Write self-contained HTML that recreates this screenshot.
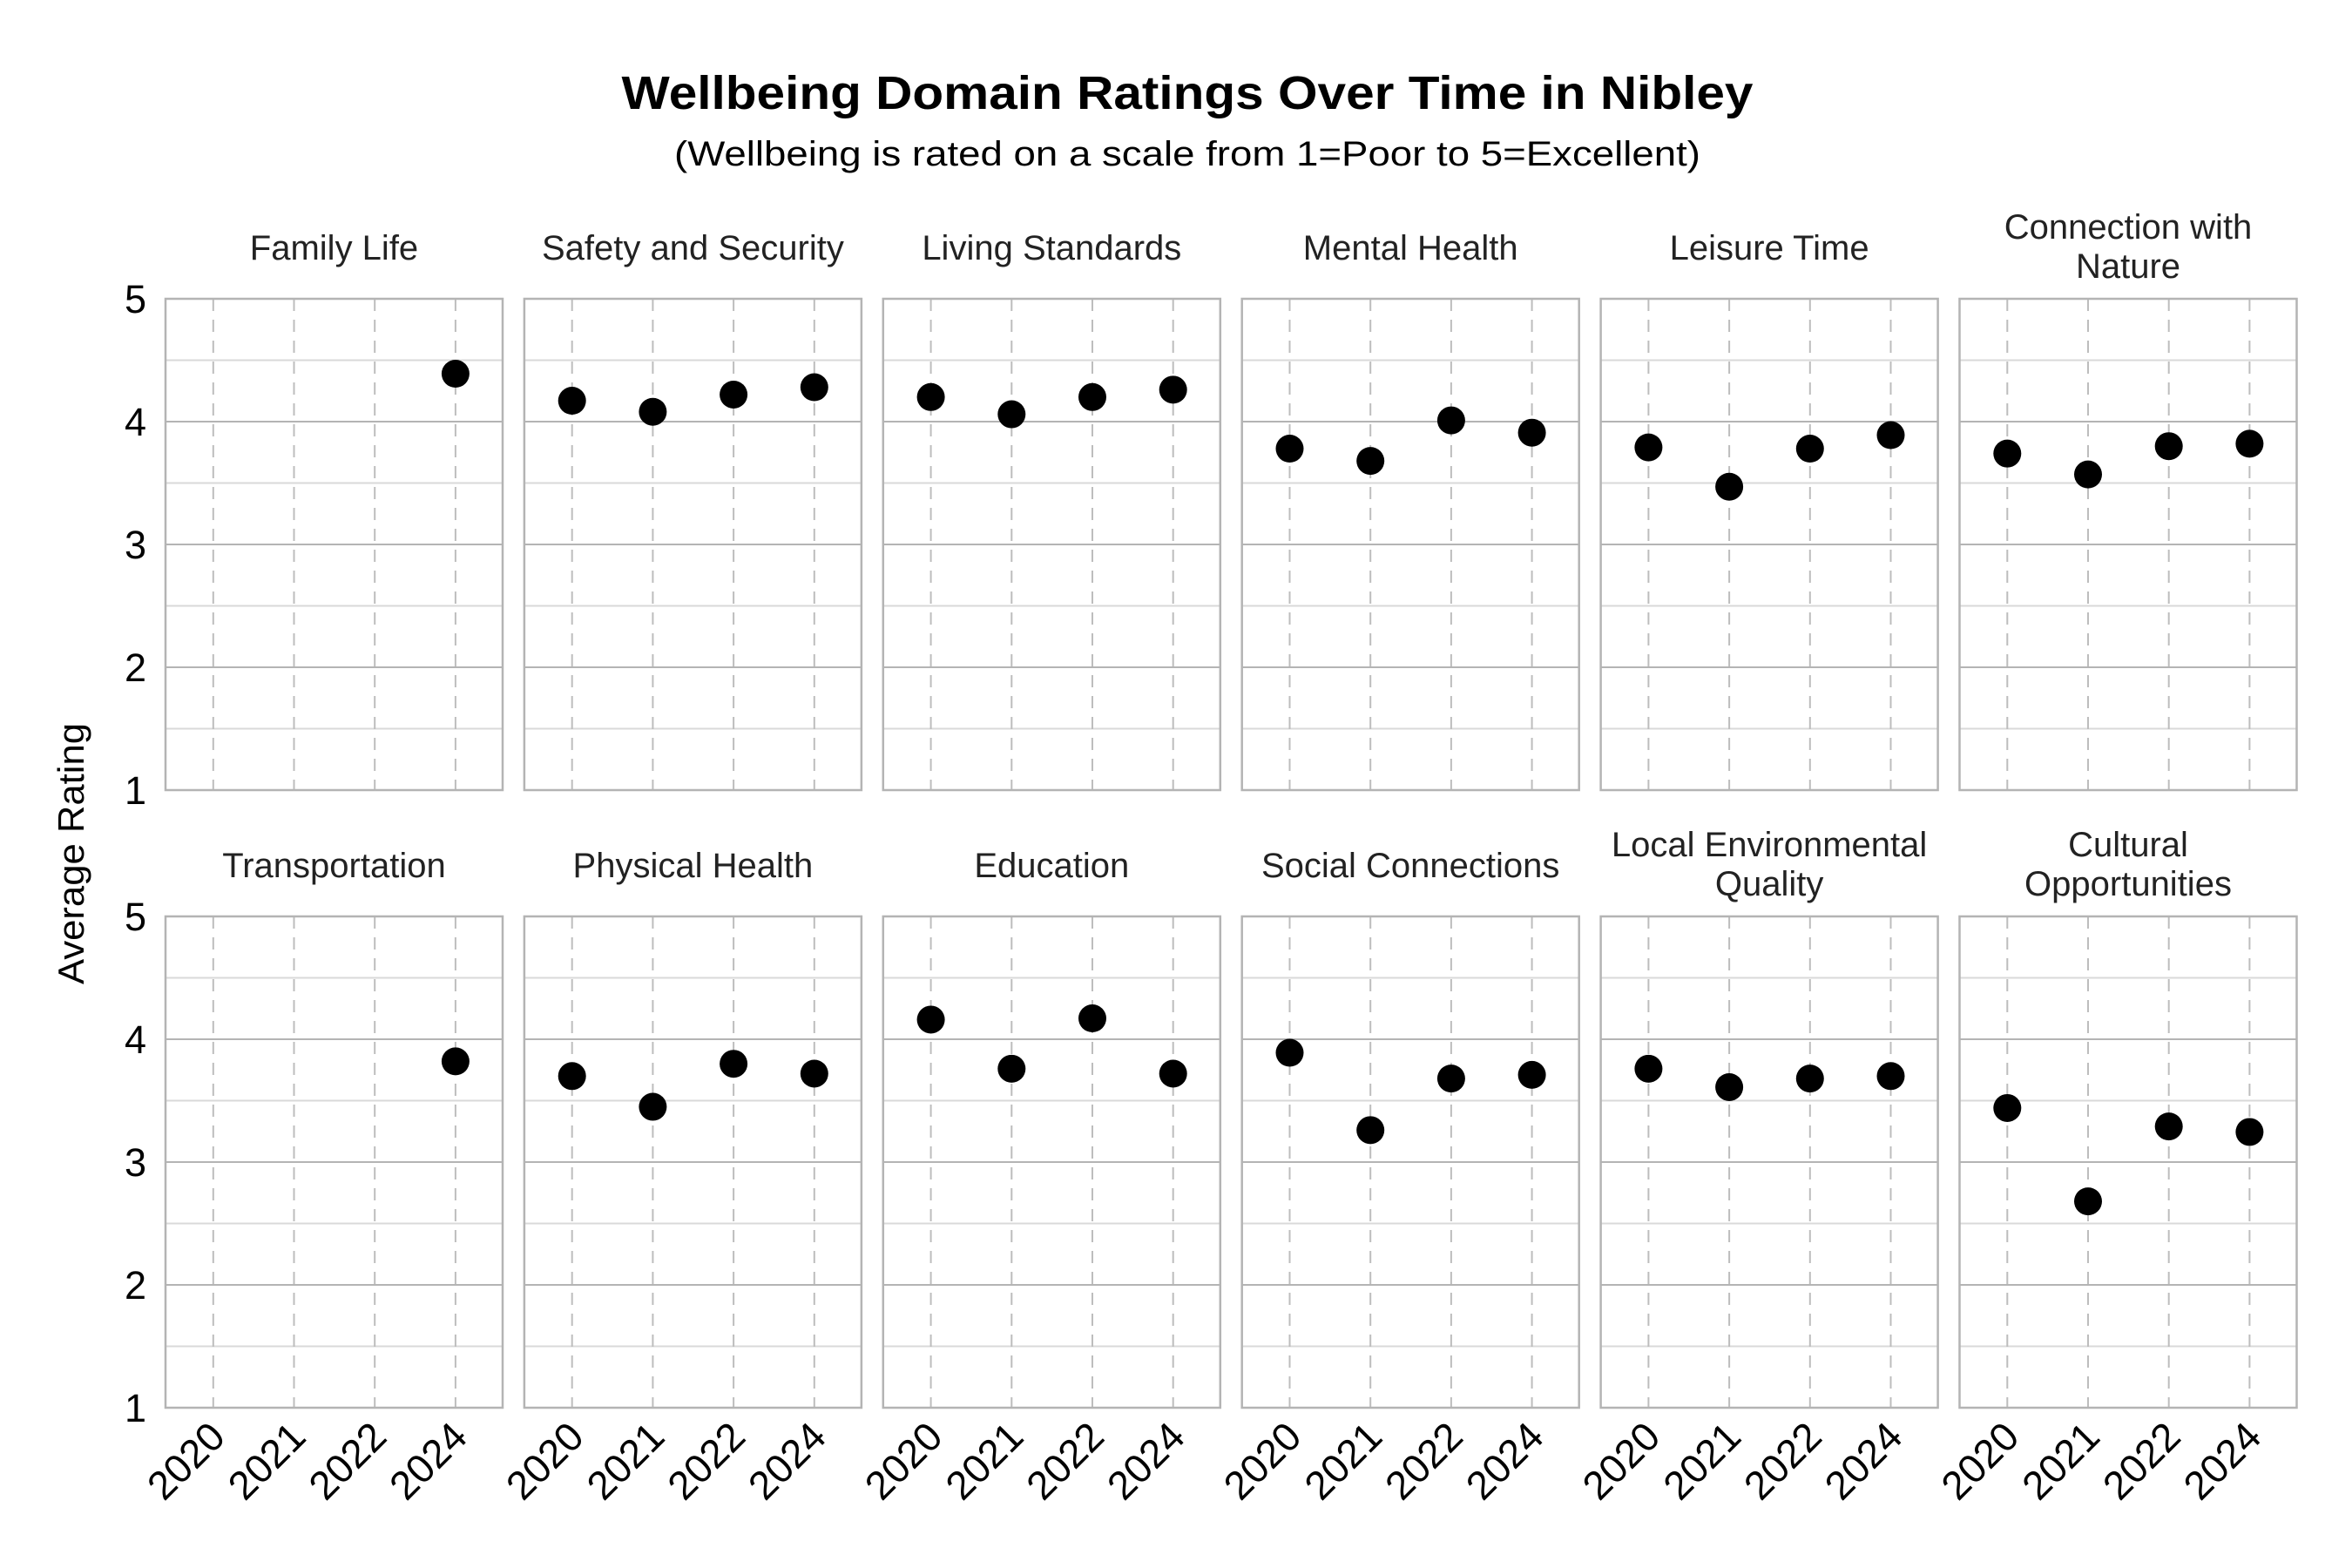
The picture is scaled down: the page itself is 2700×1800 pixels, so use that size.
<!DOCTYPE html>
<html><head><meta charset="utf-8"><style>
html,body{margin:0;padding:0;background:#fff;}
svg{display:block;}
</style></head><body>
<svg xmlns="http://www.w3.org/2000/svg" width="2700" height="1800" viewBox="0 0 2700 1800">
<rect width="2700" height="1800" fill="#fff"/>
<text x="1363" y="125" text-anchor="middle" font-family="Liberation Sans, sans-serif" font-weight="bold" font-size="54" textLength="1299" lengthAdjust="spacingAndGlyphs" fill="#000">Wellbeing Domain Ratings Over Time in Nibley</text>
<text x="1363" y="190" text-anchor="middle" font-family="Liberation Sans, sans-serif" font-size="40" textLength="1178" lengthAdjust="spacingAndGlyphs" fill="#000">(Wellbeing is rated on a scale from 1=Poor to 5=Excellent)</text>
<text transform="translate(96,980) rotate(-90)" text-anchor="middle" font-family="Liberation Sans, sans-serif" font-size="42" textLength="300" lengthAdjust="spacingAndGlyphs" fill="#000">Average Rating</text>
<g id="g"></g>
<script>
(function(){
var NS="http://www.w3.org/2000/svg",g=document.getElementById("g");
function el(t,a,txt){var e=document.createElementNS(NS,t);for(var k in a)e.setAttribute(k,a[k]);if(txt!==undefined)e.textContent=txt;g.appendChild(e);return e;}
var panels=[
[["Family Life"],[null,null,null,4.39]],
[["Safety and Security"],[4.17,4.08,4.22,4.28]],
[["Living Standards"],[4.20,4.06,4.20,4.26]],
[["Mental Health"],[3.78,3.68,4.01,3.91]],
[["Leisure Time"],[3.79,3.47,3.78,3.89]],
[["Connection with","Nature"],[3.74,3.57,3.80,3.82]],
[["Transportation"],[null,null,null,3.82]],
[["Physical Health"],[3.70,3.45,3.80,3.72]],
[["Education"],[4.16,3.76,4.17,3.72]],
[["Social Connections"],[3.89,3.26,3.68,3.71]],
[["Local Environmental","Quality"],[3.76,3.61,3.68,3.70]],
[["Cultural","Opportunities"],[3.44,2.68,3.29,3.245]]
];
var years=["2020","2021","2022","2024"],xo=[54.8,147.5,240.2,332.9];
var W=387,tops=[343,1052],H=564;
panels.forEach(function(p,i){
 var r=Math.floor(i/6),c=i%6,L=190+c*411.9,T=tops[r],B=T+H,u=H/4;
 function Y(v){return T+(5-v)*u;}
 for(var k=0;k<8;k++){var v=1.5+k*0.5;var major=(v%1===0);
  if(v>=5||v<=1)continue;
  el("line",{x1:L,x2:L+W,y1:Y(v),y2:Y(v),stroke:major?"#b4b4b4":"#d9d9d9","stroke-width":2});}
 xo.forEach(function(o){el("line",{x1:L+o,x2:L+o,y1:T,y2:B,stroke:"#bdbdbd","stroke-width":2,"stroke-dasharray":"14,10"});});
 el("rect",{x:L,y:T,width:W,height:H,fill:"none",stroke:"#b4b4b4","stroke-width":2.5});
 p[1].forEach(function(v,j){if(v!==null)el("circle",{cx:L+xo[j],cy:Y(v),r:16,fill:"#000"});});
 var cx=L+W/2,base=T-45;
 var fs=40;
 if(p[0].length===1){el("text",{x:cx,y:base,"text-anchor":"middle","font-family":"Liberation Sans, sans-serif","font-size":fs,fill:"#222"},p[0][0]);}
 else{el("text",{x:cx,y:base-24,"text-anchor":"middle","font-family":"Liberation Sans, sans-serif","font-size":fs,fill:"#222"},p[0][0]);
      el("text",{x:cx,y:base+21,"text-anchor":"middle","font-family":"Liberation Sans, sans-serif","font-size":fs,fill:"#222"},p[0][1]);}
 if(c===0){for(var t=1;t<=5;t++)el("text",{x:168,y:Y(t)+16,"text-anchor":"end","font-family":"Liberation Sans, sans-serif","font-size":45,fill:"#000"},String(t));}
 if(r===1){xo.forEach(function(o,j){var ax=L+o+16,ay=1652;
  el("text",{x:ax,y:ay,"text-anchor":"end","font-family":"Liberation Sans, sans-serif","font-size":46,fill:"#000",transform:"rotate(-45 "+ax+" "+ay+")"},years[j]);});}
});
})();
</script>
</svg>
</body></html>
